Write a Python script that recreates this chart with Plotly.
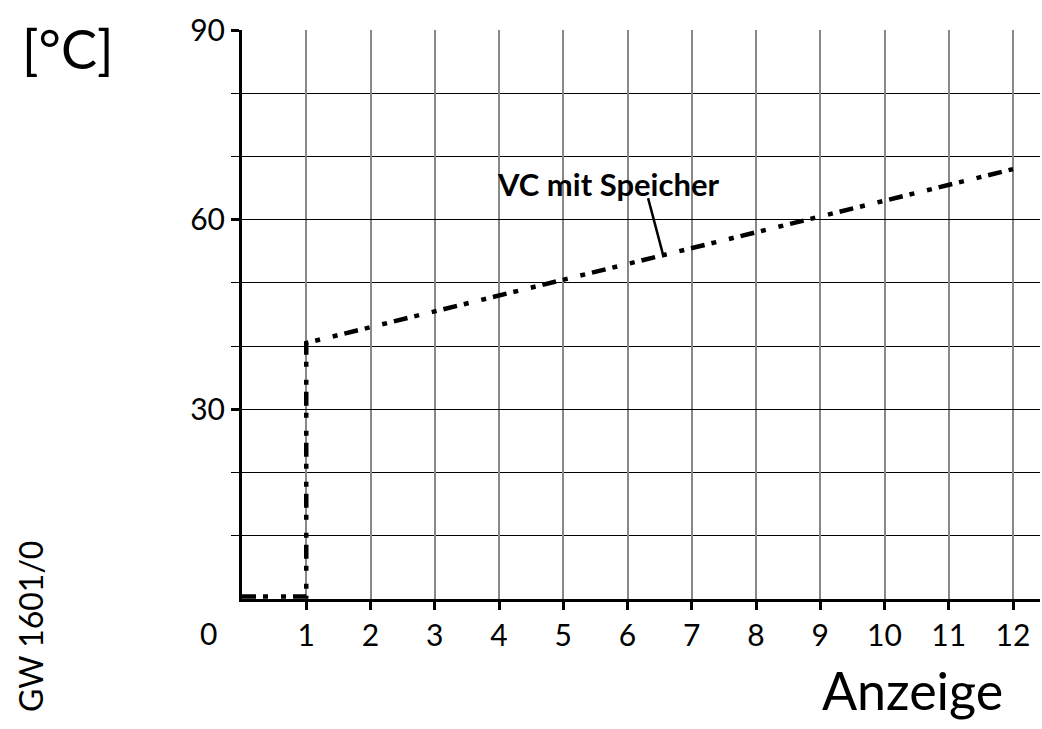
import plotly.graph_objects as go

# Data
x_vals = [0, 1, 1, 12]
y_vals = [0.4, 0.4, 40.5, 68]
series_name = "VC mit Speicher"

x_ticks = list(range(1, 13))
x_ticktext = [str(v) for v in x_ticks]
origin_label = "0"
y_ticks = [30, 60, 90]
y_ticktext = ["30", "60", "90"]
y_minor_ticks = [10, 20, 40, 50, 70, 80]

label_pos = (5.70, 65.7)
callout_start = (6.32, 63.4)
callout_end = (6.55, 54.6)

FONT = "Lato"
L, R, T, B = 242, 2, 30, 130
W, H = 1042, 729
PW, PH = W - L - R, H - T - B

fig = go.Figure()
fig.add_trace(go.Scatter(
    x=x_vals, y=y_vals, mode="lines",
    line=dict(color="black", width=4.5, dash="14px,7px,5px,13px,5px,7px"),
    showlegend=False, hoverinfo="skip", cliponaxis=False,
))

fig.add_annotation(x=label_pos[0], y=label_pos[1], text="<b>" + series_name + "</b>",
                   showarrow=False, font=dict(family=FONT, size=31, color="black"))
fig.add_shape(type="line", x0=callout_start[0], y0=callout_start[1],
              x1=callout_end[0], y1=callout_end[1],
              line=dict(color="black", width=2.5))

fig.update_layout(
    width=W, height=H,
    margin=dict(l=L, r=R, t=T, b=B),
    paper_bgcolor="white", plot_bgcolor="white",
    font=dict(family=FONT, color="black"),
)

fig.update_xaxes(
    range=[0, 12.42], tickvals=x_ticks, ticktext=x_ticktext,
    showgrid=True, gridcolor="#888888", gridwidth=1.5,
    showline=True, linecolor="black", linewidth=3,
    ticks="outside", ticklen=8, tickwidth=3, tickcolor="black",
    tickfont=dict(family=FONT, size=30, color="black"),
    zeroline=False,
)
fig.update_yaxes(
    range=[0, 90], tickvals=y_ticks, ticktext=y_ticktext,
    showgrid=True, gridcolor="black", gridwidth=1,
    showline=True, linecolor="black", linewidth=3,
    ticks="outside", ticklen=8, tickwidth=3, tickcolor="black",
    tickfont=dict(family=FONT, size=30, color="black"),
    minor=dict(tickvals=y_minor_ticks, showgrid=True, gridcolor="black", gridwidth=1,
               ticks="outside", ticklen=8, tickwidth=1, tickcolor="black"),
    zeroline=False,
)

# Texts outside plot
fig.add_annotation(xref="paper", yref="paper", x=(208 - L) / PW, y=-(633 - (T + PH)) / PH,
                   text=origin_label, showarrow=False, xanchor="center", yanchor="middle",
                   font=dict(family=FONT, size=30, color="black"))
fig.add_annotation(xref="paper", yref="paper", x=(68 - L) / PW, y=1 - (48 - T) / PH,
                   text="[°C]", showarrow=False, xanchor="center", yanchor="middle",
                   font=dict(family=FONT, size=54, color="black"))
fig.add_annotation(xref="paper", yref="paper", x=(912 - L) / PW, y=-(690 - (T + PH)) / PH,
                   text="Anzeige", showarrow=False, xanchor="center", yanchor="middle",
                   font=dict(family=FONT, size=52, color="black"))
fig.add_annotation(xref="paper", yref="paper", x=(30 - L) / PW, y=-(627 - (T + PH)) / PH,
                   text="GW 1601/0", showarrow=False, textangle=-90,
                   xanchor="center", yanchor="middle",
                   font=dict(family=FONT, size=32, color="black"))

fig.write_html("out.html", config={"displayModeBar": False},
               post_script="document.body.style.margin='0';document.body.style.overflow='hidden';")
